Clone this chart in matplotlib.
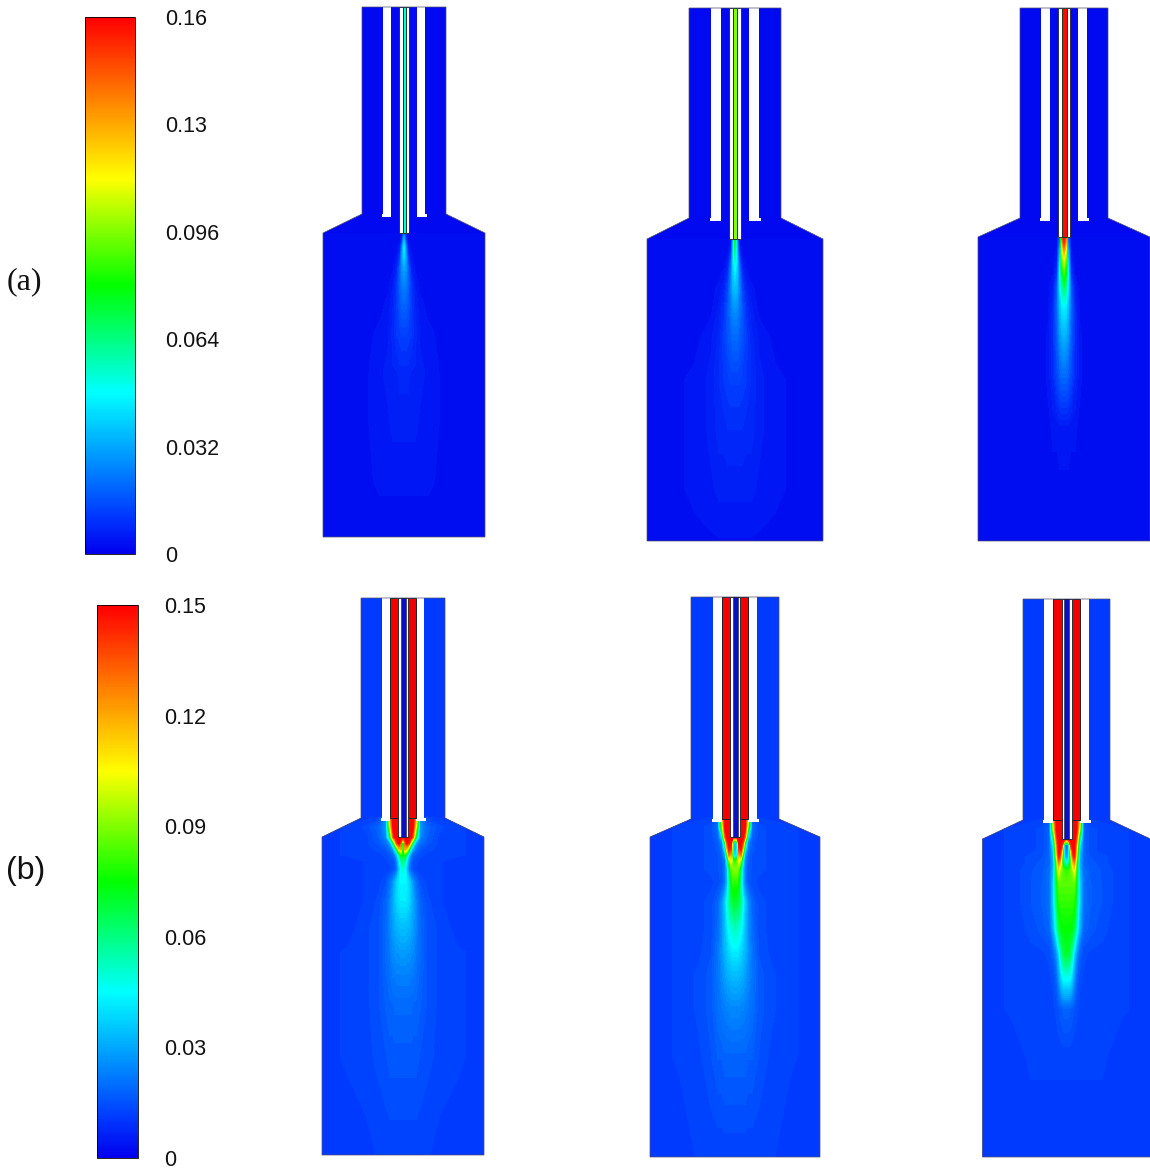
import numpy as np
import matplotlib
matplotlib.use("Agg")
import matplotlib.pyplot as plt
from matplotlib.colors import LinearSegmentedColormap, Normalize
from matplotlib.cm import ScalarMappable
from matplotlib.patches import Polygon, Rectangle

W, H = 1150, 1174

# colour bars
ticks_a = [0, 0.032, 0.064, 0.096, 0.128, 0.16]
labels_a = ["0", "0.032", "0.064", "0.096", "0.13", "0.16"]
ticks_b = [0, 0.03, 0.06, 0.09, 0.12, 0.15]
labels_b = ["0", "0.03", "0.06", "0.09", "0.12", "0.15"]

# burner outlines, pixels: one entry per column
centers_a = [404, 735, 1064]
top_a = [7, 8, 8]
tip_a = [233, 239, 237]
shoulder_a = [214, 218, 218]
bottom_a = [537, 541, 541]
body_a = [42, 46, 44]
flare_a = [81, 88, 86]
slot_in_a = [13, 14, 14]
slot_out_a = [21, 24, 23]
tube_a = [5, 6, 6]
inner_a = [1.5, 2, 2.5]
inner_val_a = [52, 96, 158]

centers_b = [403, 735, 1066.5]
top_b = [598, 597, 599]
tip_b = [837, 837, 839]
shoulder_b = [818, 819, 820]
bottom_b = [1155, 1157, 1157]
body_b = [42, 44, 43.5]
flare_b = [81, 85, 84]
slot_in_b = [13, 13, 13.5]
slot_out_b = [21, 22, 22.5]

# plume readings in units of 0.001: rows = px below nozzle tip, cols = px off axis
dy_a = [0, 6, 14, 24, 34, 50, 70, 100, 140, 190, 250, 310]
dx_a = [0, 2, 4, 7, 11, 16, 24, 40, 90]
plume_a1 = [
    [20, 5, 2, 2, 2, 2, 2, 2, 2],
    [32, 10, 3, 2, 2, 2, 2, 2, 2],
    [44, 24, 6, 3, 2, 2, 2, 2, 2],
    [40, 30, 12, 4, 3, 2, 2, 2, 2],
    [32, 28, 18, 7, 3, 2, 2, 2, 2],
    [26, 24, 19, 11, 5, 3, 2, 2, 2],
    [20, 19, 17, 12, 7, 4, 3, 2, 2],
    [13, 13, 12, 11, 8, 5, 4, 3, 2],
    [8, 8, 8, 7, 7, 6, 5, 3, 2],
    [6, 6, 6, 6, 6, 5, 5, 3, 2],
    [4, 4, 4, 4, 4, 4, 4, 3, 2],
    [2, 2, 2, 2, 2, 2, 2, 2, 2],
]
plume_a2 = [
    [78, 30, 4, 2, 2, 2, 2, 2, 2],
    [70, 35, 6, 2, 2, 2, 2, 2, 2],
    [62, 38, 12, 3, 2, 2, 2, 2, 2],
    [52, 40, 20, 6, 3, 2, 2, 2, 2],
    [44, 38, 24, 10, 4, 3, 2, 2, 2],
    [36, 34, 26, 14, 7, 4, 3, 2, 2],
    [28, 27, 23, 17, 10, 6, 3, 2, 2],
    [20, 20, 18, 16, 12, 8, 5, 3, 2],
    [13, 13, 13, 12, 11, 9, 6, 4, 2],
    [9, 9, 9, 9, 8, 8, 6, 4, 2],
    [6, 6, 6, 6, 6, 6, 5, 4, 2],
    [3, 3, 3, 3, 3, 3, 3, 3, 2],
]
plume_a3 = [
    [158, 140, 20, 2, 2, 2, 2, 2, 2],
    [150, 125, 25, 3, 2, 2, 2, 2, 2],
    [128, 105, 35, 4, 2, 2, 2, 2, 2],
    [105, 88, 42, 6, 3, 2, 2, 2, 2],
    [90, 76, 46, 10, 3, 2, 2, 2, 2],
    [68, 60, 44, 18, 5, 3, 2, 2, 2],
    [46, 44, 36, 20, 8, 3, 2, 2, 2],
    [34, 32, 28, 18, 9, 4, 2, 2, 2],
    [20, 20, 18, 14, 8, 4, 2, 2, 2],
    [5, 5, 5, 4, 4, 3, 2, 2, 2],
    [3, 3, 3, 3, 3, 2, 2, 2, 2],
    [2, 2, 2, 2, 2, 2, 2, 2, 2],
]

dy_b = [-20, -10, 0, 6, 12, 18, 24, 32, 45, 65, 90, 115, 140, 170, 220, 320]
dx_b = [0, 2, 4, 6, 8, 10, 13, 17, 24, 36, 55, 90]
plume_b1 = [
    [150, 150, 150, 150, 150, 150, 120, 24, 13, 11, 11, 11],
    [150, 150, 150, 150, 150, 150, 100, 28, 18, 14, 12, 11],
    [150, 150, 150, 150, 150, 130, 65, 25, 17, 13, 12, 11],
    [20, 130, 150, 140, 100, 60, 28, 20, 16, 13, 12, 11],
    [40, 120, 110, 75, 45, 28, 20, 16, 14, 13, 12, 11],
    [70, 75, 55, 35, 24, 18, 16, 14, 13, 12, 12, 11],
    [60, 55, 40, 26, 18, 15, 14, 13, 12, 12, 11, 11],
    [50, 45, 34, 22, 16, 14, 13, 12, 12, 12, 11, 11],
    [44, 44, 42, 38, 32, 26, 20, 15, 13, 12, 11, 11],
    [42, 42, 40, 38, 34, 30, 24, 18, 14, 12, 11, 11],
    [34, 34, 33, 32, 30, 28, 24, 19, 15, 13, 11, 11],
    [28, 28, 27, 27, 26, 25, 22, 19, 15, 13, 12, 11],
    [23, 23, 23, 23, 22, 22, 20, 18, 15, 13, 12, 11],
    [19, 19, 19, 19, 19, 18, 18, 17, 15, 13, 12, 11],
    [16, 16, 16, 16, 16, 16, 16, 15, 14, 13, 12, 11],
    [12, 12, 12, 12, 12, 12, 12, 12, 12, 11, 11, 11],
]
plume_b2 = [
    [150, 150, 150, 150, 150, 150, 110, 18, 12, 11, 11, 11],
    [150, 150, 150, 150, 150, 150, 90, 20, 14, 13, 12, 11],
    [150, 150, 150, 150, 150, 130, 40, 18, 14, 13, 12, 11],
    [18, 60, 150, 150, 135, 70, 24, 16, 14, 13, 12, 11],
    [25, 45, 140, 145, 110, 45, 20, 16, 14, 13, 12, 11],
    [35, 45, 120, 125, 70, 30, 18, 15, 14, 13, 12, 11],
    [70, 85, 105, 85, 45, 22, 17, 15, 14, 13, 12, 11],
    [90, 90, 82, 60, 34, 22, 16, 15, 14, 13, 12, 11],
    [80, 80, 72, 50, 32, 22, 16, 14, 13, 13, 12, 11],
    [70, 68, 64, 56, 46, 36, 26, 18, 14, 13, 12, 11],
    [54, 52, 50, 46, 40, 34, 26, 19, 14, 13, 12, 11],
    [42, 42, 40, 38, 35, 32, 27, 21, 15, 13, 12, 11],
    [33, 33, 32, 31, 30, 28, 25, 21, 16, 14, 12, 11],
    [25, 25, 25, 24, 24, 23, 22, 20, 16, 14, 12, 11],
    [18, 18, 18, 18, 18, 18, 17, 17, 15, 13, 12, 11],
    [12, 12, 12, 12, 12, 12, 12, 12, 12, 12, 11, 11],
]
plume_b3 = [
    [150, 150, 150, 150, 150, 150, 115, 16, 12, 11, 11, 11],
    [150, 150, 150, 150, 150, 150, 100, 18, 14, 13, 12, 11],
    [150, 150, 150, 150, 150, 135, 60, 18, 14, 13, 12, 11],
    [15, 30, 135, 150, 150, 120, 45, 18, 14, 13, 12, 11],
    [20, 30, 95, 145, 150, 110, 38, 18, 14, 13, 12, 11],
    [28, 35, 75, 130, 145, 95, 35, 18, 15, 14, 12, 11],
    [45, 55, 72, 110, 125, 80, 32, 18, 16, 14, 12, 11],
    [80, 82, 85, 90, 105, 75, 34, 20, 16, 15, 12, 11],
    [85, 85, 85, 85, 85, 70, 38, 20, 17, 15, 12, 11],
    [80, 80, 80, 80, 76, 64, 38, 20, 17, 15, 12, 11],
    [75, 75, 74, 72, 65, 50, 32, 18, 16, 14, 12, 11],
    [70, 68, 62, 50, 36, 26, 18, 14, 13, 13, 12, 11],
    [45, 45, 42, 34, 25, 18, 14, 13, 13, 13, 12, 11],
    [18, 18, 17, 16, 15, 14, 13, 13, 13, 12, 12, 11],
    [12, 12, 12, 12, 12, 12, 12, 12, 12, 12, 11, 11],
    [11, 11, 11, 11, 11, 11, 11, 11, 11, 11, 11, 11],
]

# same stops as the colour bars in the picture
cmap = LinearSegmentedColormap.from_list("cfd", [
    (0.0, (0, 0, 0.93)),
    (0.07, (0, 0.22, 1)),
    (0.3, (0, 1, 1)),
    (0.5, (0, 1, 0)),
    (0.7, (1, 1, 0)),
    (1.0, (1, 0, 0)),
], N=256)


def colorbar(box, vmax, ticks, labels, pad):
    x0, y0, x1, y1 = box
    cax = fig.add_axes([x0 / W, 1 - y1 / H, (x1 - x0) / W, (y1 - y0) / H])
    sm = ScalarMappable(Normalize(0, vmax), cmap)
    cb = fig.colorbar(sm, cax=cax, ticks=ticks)
    cb.set_ticklabels(labels)
    cb.ax.tick_params(length=0, pad=pad, labelsize=15.5, labelcolor="#111111")
    cb.outline.set_linewidth(0.6)
    for t in cb.ax.get_yticklabels():
        t.set_fontfamily("Liberation Sans")


def burner(c, top, shoulder, tip, bottom, body, flare, slot_in, slot_out, grid, dy, dx, vmax, bg):
    pts = [(c - body, top), (c + body, top), (c + body, shoulder), (c + flare, tip),
           (c + flare, bottom), (c - flare, bottom), (c - flare, tip), (c - body, shoulder)]
    shape = Polygon(pts, closed=True, facecolor=cmap(bg / 1000 / vmax), edgecolor="none", zorder=1)
    ax.add_patch(shape)

    vals = np.array(grid, dtype=float) / 1000
    both = np.hstack([vals[:, :0:-1], vals])
    off = np.array(dx, dtype=float)
    xs = c + np.concatenate([-off[:0:-1], off])
    ys = tip + np.array(dy, dtype=float)
    cs = ax.contourf(xs, ys, both, levels=np.linspace(0, vmax, 90), cmap=cmap, vmin=0, vmax=vmax,
                     extend="both", zorder=2)
    cs.set_clip_path(shape)

    ax.add_patch(Polygon(pts, closed=True, fill=False, edgecolor="#50506e", lw=0.5, zorder=6))
    for sign in (-1, 1):
        xa, xb = sorted((c + sign * slot_in, c + sign * slot_out))
        ax.add_patch(Rectangle((xa, top), xb - xa, shoulder + 3 - top, fc="white", ec="none", zorder=3))
        xc, xd = sorted((c + sign * slot_in, c + sign * (slot_out + 1.5)))
        ax.add_patch(Rectangle((xc, shoulder), xd - xc, 3, fc="white", ec="none", zorder=3))


fig = plt.figure(figsize=(W / 100, H / 100), dpi=100)
ax = fig.add_axes([0, 0, 1, 1])
ax.set_xlim(0, W)
ax.set_ylim(H, 0)
ax.axis("off")

colorbar((85, 17, 135, 554), 0.16, ticks_a, labels_a, 22)
colorbar((97, 605, 138, 1158), 0.15, ticks_b, labels_b, 19)

ax.text(7, 282, "(a)", family="Liberation Serif", fontsize=23, va="center", color="#111111")
ax.text(6, 871, "(b)", family="Liberation Sans", fontsize=23, va="center", color="#111111")

plumes_a = [plume_a1, plume_a2, plume_a3]
for i, c in enumerate(centers_a):
    burner(c, top_a[i], shoulder_a[i], tip_a[i], bottom_a[i], body_a[i], flare_a[i],
           slot_in_a[i], slot_out_a[i], plumes_a[i], dy_a, dx_a, 0.16, 2)
    t = tube_a[i]
    ax.add_patch(Rectangle((c - t, top_a[i]), 2 * t, tip_a[i] - top_a[i], fc="white", ec="#222222", lw=0.6, zorder=4))
    n = inner_a[i]
    ax.add_patch(Rectangle((c - n, top_a[i]), 2 * n, tip_a[i] - top_a[i],
                           fc=cmap(inner_val_a[i] / 160), ec="#1c3a1c", lw=0.7, zorder=5))

plumes_b = [plume_b1, plume_b2, plume_b3]
for i, c in enumerate(centers_b):
    burner(c, top_b[i], shoulder_b[i], tip_b[i], bottom_b[i], body_b[i], flare_b[i],
           slot_in_b[i], slot_out_b[i], plumes_b[i], dy_b, dx_b, 0.15, 11)
    si = slot_in_b[i]
    for sign in (-1, 1):
        xa, xb = sorted((c + sign * 5, c + sign * si))
        ax.add_patch(Rectangle((xa, top_b[i]), xb - xa, shoulder_b[i] - top_b[i], fc="#f50000", ec="#222222",
                               lw=0.7, zorder=4))
    ax.add_patch(Rectangle((c - 5, top_b[i]), 10, tip_b[i] - top_b[i], fc="white", ec="#222222", lw=0.6, zorder=5))
    ax.add_patch(Rectangle((c - 2.5, top_b[i]), 5, tip_b[i] - top_b[i], fc="#0a10c8", ec="#222222", lw=0.4, zorder=6))

fig.savefig("out.png", dpi=100)
